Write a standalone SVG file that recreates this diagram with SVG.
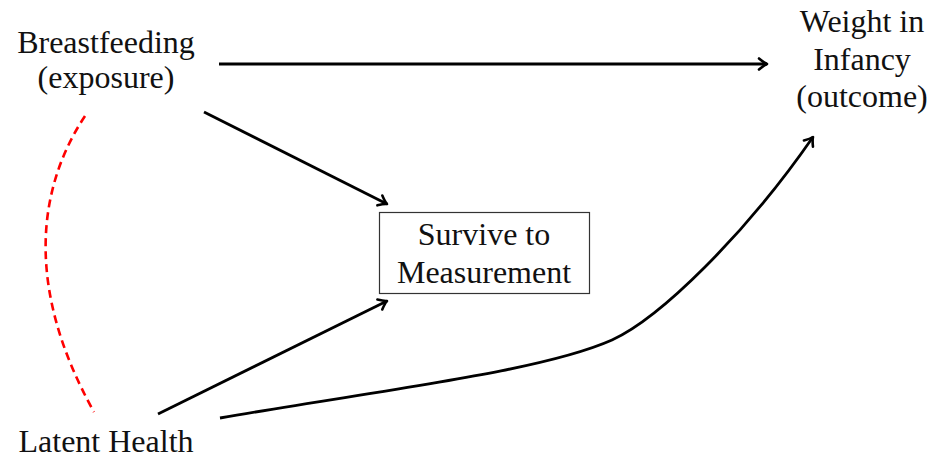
<svg xmlns="http://www.w3.org/2000/svg" width="933" height="458" viewBox="0 0 933 458">
<defs>
<marker id="arr" viewBox="-10 -8 12 16" markerWidth="12" markerHeight="16" refX="0" refY="0" orient="auto" markerUnits="userSpaceOnUse">
<path d="M-8,-5.5 Q-3,-1.2 0,0 Q-3,1.2 -8,5.5" fill="none" stroke="#000" stroke-width="2.6" stroke-linecap="round" stroke-linejoin="round"/>
</marker>
</defs>
<style>
text{font-family:"Liberation Serif","DejaVu Serif",serif;font-size:32px;fill:#111;text-anchor:middle}
.e{fill:none;stroke:#000;stroke-width:2.8;marker-end:url(#arr)}
.d{fill:none;stroke:#ff0000;stroke-width:2.6;stroke-dasharray:8 5}
.box{fill:#fff;stroke:#333;stroke-width:1.2}
</style>
<rect width="933" height="458" fill="#fff"/>
<g id="connectors">
<path class="e" d="M219,64 L767,64"/>
<path class="e" d="M204,112 L387,204"/>
<path class="e" d="M158,414 L387,301"/>
<path class="e" d="M220,418 C380,390 540,372 612,340 C660,318 745,235 813,137"/>
<path class="d" d="M85,116 C36,190 26,290 94,412"/>
</g>
<g id="breastfeeding" font-family="Liberation Serif, DejaVu Serif, serif">
<text x="106" y="53">Breastfeeding</text>
<text x="106" y="88">(exposure)</text>
</g>
<g id="weight" font-family="Liberation Serif, DejaVu Serif, serif">
<text x="862" y="32">Weight in</text>
<text x="862" y="70">Infancy</text>
<text x="862" y="107">(outcome)</text>
</g>
<g id="survive" font-family="Liberation Serif, DejaVu Serif, serif">
<rect class="box" x="379.5" y="212.5" width="210" height="81"/>
<text x="484" y="245">Survive to</text>
<text x="484" y="283">Measurement</text>
</g>
<g id="latent" font-family="Liberation Serif, DejaVu Serif, serif">
<text x="106" y="452">Latent Health</text>
</g>
</svg>
